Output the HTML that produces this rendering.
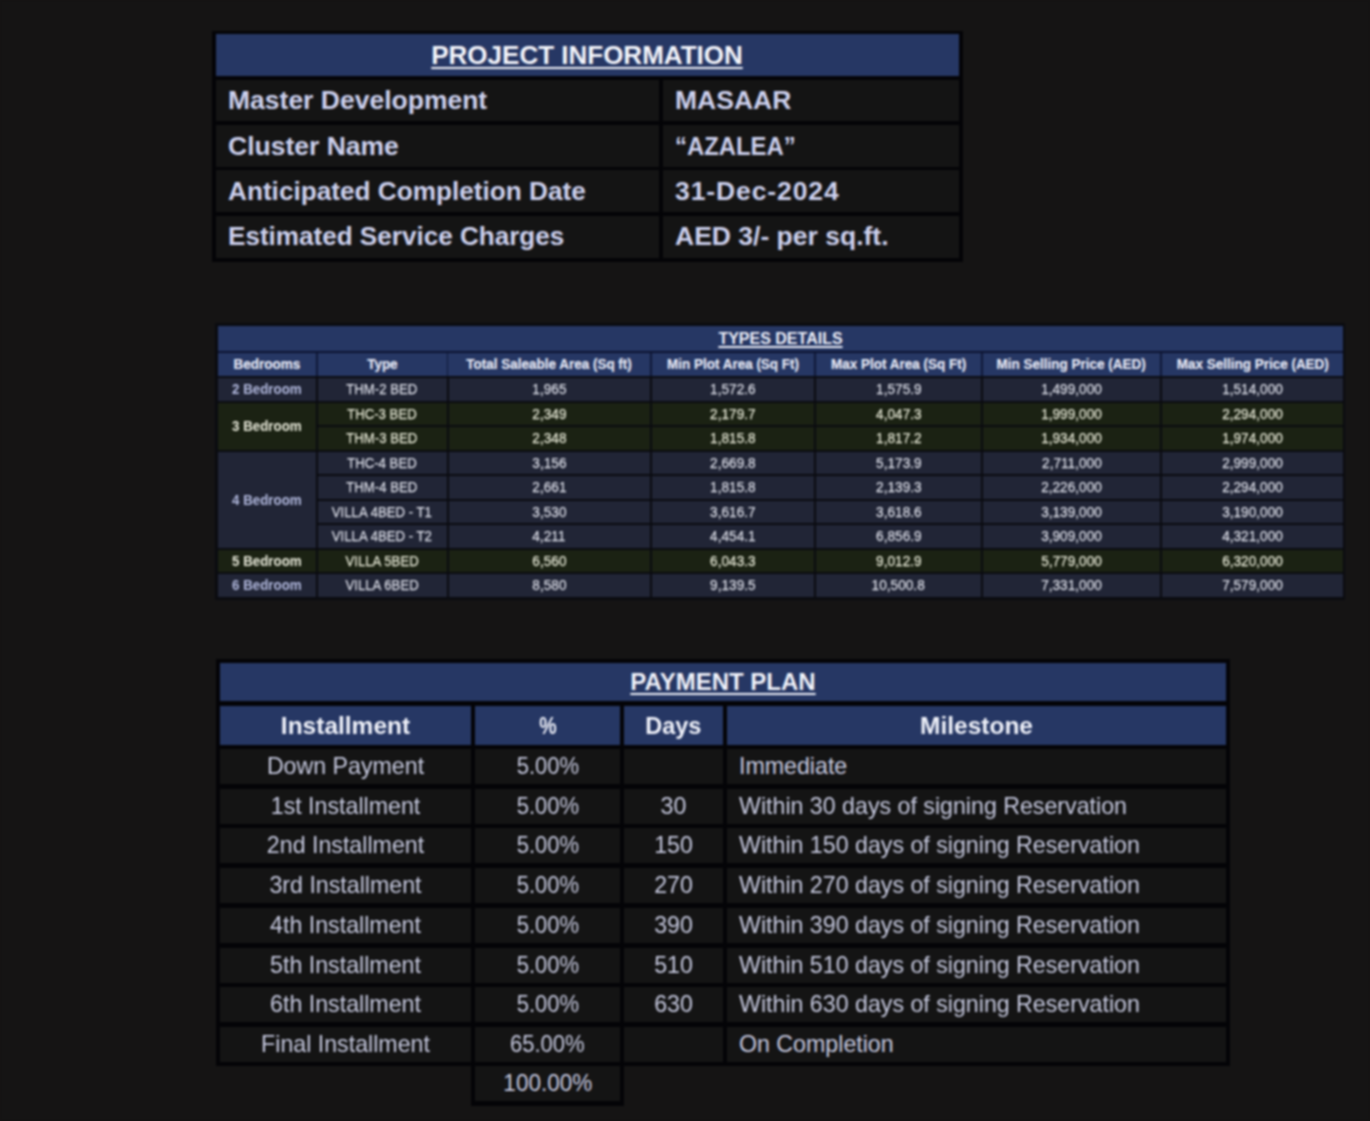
<!DOCTYPE html>
<html><head><meta charset="utf-8"><title>Azalea</title><style>
html,body{margin:0;padding:0;background:#151414;width:1370px;height:1121px;overflow:hidden;}
body{position:relative;font-family:"Liberation Sans",sans-serif;}
#wrap{position:absolute;left:0;top:0;width:1370px;height:1121px;background:#151414;filter:blur(0.8px);}
.b{position:absolute;}
.t{position:absolute;white-space:nowrap;}
.pih{font-size:26px;font-weight:bold;color:#f4f5fb;text-decoration:underline;text-decoration-thickness:2px;text-underline-offset:3px;}
.pit{font-size:26.5px;font-weight:bold;color:#cdd1ee;}
.th{font-size:14.5px;font-weight:bold;color:#e6e9f6;-webkit-text-stroke:0.2px currentColor;}
.tt{font-size:16px;font-weight:bold;color:#eef0fa;text-decoration:underline;text-decoration-thickness:1.5px;text-underline-offset:2px;}
.tb{font-size:14.5px;font-weight:bold;}
.bl{color:#b3badf;}
.bc{color:#e9eadb;}
.td{font-size:15.5px;-webkit-text-stroke:0.25px currentColor;}
.dl{color:#dcdee8;}
.dc{color:#e4e6d4;}
.pph{font-size:24px;font-weight:bold;color:#f0f2fa;text-decoration:underline;text-decoration-thickness:2px;text-underline-offset:3px;}
.ppth{font-size:24.5px;font-weight:bold;color:#f0f2fa;}
.ppd{font-size:23.2px;color:#c8cbe1;}
</style></head><body><div id="wrap">
<div class="b" style="left:212px;top:31px;width:751px;height:230.5px;background:#040407;"></div>
<div class="b" style="left:216px;top:34px;width:743px;height:42px;background:#263764;"></div>
<div class="b" style="left:216px;top:80px;width:443px;height:41px;background:#141414;"></div>
<div class="b" style="left:663px;top:80px;width:296px;height:41px;background:#141414;"></div>
<div class="b" style="left:216px;top:125px;width:443px;height:42px;background:#141414;"></div>
<div class="b" style="left:663px;top:125px;width:296px;height:42px;background:#141414;"></div>
<div class="b" style="left:216px;top:170px;width:443px;height:42px;background:#141414;"></div>
<div class="b" style="left:663px;top:170px;width:296px;height:42px;background:#141414;"></div>
<div class="b" style="left:216px;top:216px;width:443px;height:41.5px;background:#141414;"></div>
<div class="b" style="left:663px;top:216px;width:296px;height:41.5px;background:#141414;"></div>
<div class="t pih" style="left:187.00px;top:34.00px;width:800px;text-align:center;height:42.00px;line-height:42.00px;">PROJECT INFORMATION</div>
<div class="t pit" style="left:228.00px;top:80.00px;height:41.00px;line-height:41.00px;">Master Development</div>
<div class="t pit" style="left:675.00px;top:80.00px;height:41.00px;line-height:41.00px;">MASAAR</div>
<div class="t pit" style="left:228.00px;top:125.00px;height:42.00px;line-height:42.00px;">Cluster Name</div>
<div class="t pit" style="left:675.00px;top:125.00px;height:42.00px;line-height:42.00px;"><span style="display:inline-block;transform:scaleX(0.9);transform-origin:left center;">&ldquo;AZALEA&rdquo;</span></div>
<div class="t pit" style="left:228.00px;top:170.00px;height:42.00px;line-height:42.00px;"><span style="display:inline-block;transform:scaleX(0.988);transform-origin:left center;">Anticipated Completion Date</span></div>
<div class="t pit" style="left:675.00px;top:170.00px;height:42.00px;line-height:42.00px;"><span style="display:inline-block;letter-spacing:0.9px;">31-Dec-2024</span></div>
<div class="t pit" style="left:228.00px;top:216.00px;height:41.50px;line-height:41.50px;"><span style="display:inline-block;transform:scaleX(0.984);transform-origin:left center;">Estimated Service Charges</span></div>
<div class="t pit" style="left:675.00px;top:216.00px;height:41.50px;line-height:41.50px;">AED 3/- per sq.ft.</div>
<div class="b" style="left:215px;top:323px;width:1130px;height:277px;background:#0a0b10;"></div>
<div class="b" style="left:218px;top:326px;width:1125px;height:25px;background:#263764;"></div>
<div class="b" style="left:218px;top:351px;width:1125px;height:2px;background:#0c1330;"></div>
<div class="b" style="left:218px;top:353px;width:1125px;height:23px;background:#263764;"></div>
<div class="t th" style="left:-133.00px;top:353.00px;width:800px;text-align:center;height:23.00px;line-height:23.00px;"><span style="display:inline-block;transform:scaleX(0.93);transform-origin:center center;">Bedrooms</span></div>
<div class="b" style="left:316.25px;top:353px;width:1.5px;height:23px;background:#0f1838;"></div>
<div class="t th" style="left:-17.75px;top:353.00px;width:800px;text-align:center;height:23.00px;line-height:23.00px;"><span style="display:inline-block;transform:scaleX(0.93);transform-origin:center center;">Type</span></div>
<div class="b" style="left:446.75px;top:353px;width:1.5px;height:23px;background:#0f1838;"></div>
<div class="t th" style="left:149.25px;top:353.00px;width:800px;text-align:center;height:23.00px;line-height:23.00px;"><span style="display:inline-block;transform:scaleX(0.93);transform-origin:center center;">Total Saleable Area (Sq ft)</span></div>
<div class="b" style="left:650.25px;top:353px;width:1.5px;height:23px;background:#0f1838;"></div>
<div class="t th" style="left:333.00px;top:353.00px;width:800px;text-align:center;height:23.00px;line-height:23.00px;"><span style="display:inline-block;transform:scaleX(0.93);transform-origin:center center;">Min Plot Area (Sq Ft)</span></div>
<div class="b" style="left:814.25px;top:353px;width:1.5px;height:23px;background:#0f1838;"></div>
<div class="t th" style="left:498.50px;top:353.00px;width:800px;text-align:center;height:23.00px;line-height:23.00px;"><span style="display:inline-block;transform:scaleX(0.93);transform-origin:center center;">Max Plot Area (Sq Ft)</span></div>
<div class="b" style="left:981.25px;top:353px;width:1.5px;height:23px;background:#0f1838;"></div>
<div class="t th" style="left:671.50px;top:353.00px;width:800px;text-align:center;height:23.00px;line-height:23.00px;"><span style="display:inline-block;transform:scaleX(0.93);transform-origin:center center;">Min Selling Price (AED)</span></div>
<div class="b" style="left:1160.25px;top:353px;width:1.5px;height:23px;background:#0f1838;"></div>
<div class="t th" style="left:852.50px;top:353.00px;width:800px;text-align:center;height:23.00px;line-height:23.00px;"><span style="display:inline-block;transform:scaleX(0.93);transform-origin:center center;">Max Selling Price (AED)</span></div>
<div class="t tt" style="left:380.50px;top:326.00px;width:800px;text-align:center;height:25.00px;line-height:25.00px;">TYPES DETAILS</div>
<div class="b" style="left:218px;top:378.0px;width:98px;height:22.55000000000001px;background:#212536;"></div>
<div class="t tb bl" style="left:-133.00px;top:378.00px;width:800px;text-align:center;height:22.55px;line-height:22.55px;"><span style="display:inline-block;transform:scaleX(0.92);transform-origin:center center;">2 Bedroom</span></div>
<div class="b" style="left:218px;top:402.55px;width:98px;height:47.099999999999966px;background:#1b2213;"></div>
<div class="t tb bc" style="left:-133.00px;top:402.55px;width:800px;text-align:center;height:47.10px;line-height:47.10px;"><span style="display:inline-block;transform:scaleX(0.92);transform-origin:center center;">3 Bedroom</span></div>
<div class="b" style="left:218px;top:451.65px;width:98px;height:96.20000000000005px;background:#212536;"></div>
<div class="t tb bl" style="left:-133.00px;top:451.65px;width:800px;text-align:center;height:96.20px;line-height:96.20px;"><span style="display:inline-block;transform:scaleX(0.92);transform-origin:center center;">4 Bedroom</span></div>
<div class="b" style="left:218px;top:549.85px;width:98px;height:22.549999999999955px;background:#1b2213;"></div>
<div class="t tb bc" style="left:-133.00px;top:549.85px;width:800px;text-align:center;height:22.55px;line-height:22.55px;"><span style="display:inline-block;transform:scaleX(0.92);transform-origin:center center;">5 Bedroom</span></div>
<div class="b" style="left:218px;top:574.4px;width:98px;height:22.550000000000068px;background:#212536;"></div>
<div class="t tb bl" style="left:-133.00px;top:574.40px;width:800px;text-align:center;height:22.55px;line-height:22.55px;"><span style="display:inline-block;transform:scaleX(0.92);transform-origin:center center;">6 Bedroom</span></div>
<div class="b" style="left:318px;top:378.0px;width:128.5px;height:22.55000000000001px;background:#212536;"></div>
<div class="t td dl" style="left:-17.75px;top:378.00px;width:800px;text-align:center;height:22.55px;line-height:22.55px;"><span style="display:inline-block;transform:scaleX(0.85);transform-origin:center center;">THM-2 BED</span></div>
<div class="b" style="left:448.5px;top:378.0px;width:201.5px;height:22.55000000000001px;background:#212536;"></div>
<div class="t td dl" style="left:149.25px;top:378.00px;width:800px;text-align:center;height:22.55px;line-height:22.55px;"><span style="display:inline-block;transform:scaleX(0.88);transform-origin:center center;">1,965</span></div>
<div class="b" style="left:652px;top:378.0px;width:162px;height:22.55000000000001px;background:#212536;"></div>
<div class="t td dl" style="left:333.00px;top:378.00px;width:800px;text-align:center;height:22.55px;line-height:22.55px;"><span style="display:inline-block;transform:scaleX(0.88);transform-origin:center center;">1,572.6</span></div>
<div class="b" style="left:816px;top:378.0px;width:165px;height:22.55000000000001px;background:#212536;"></div>
<div class="t td dl" style="left:498.50px;top:378.00px;width:800px;text-align:center;height:22.55px;line-height:22.55px;"><span style="display:inline-block;transform:scaleX(0.88);transform-origin:center center;">1,575.9</span></div>
<div class="b" style="left:983px;top:378.0px;width:177px;height:22.55000000000001px;background:#212536;"></div>
<div class="t td dl" style="left:671.50px;top:378.00px;width:800px;text-align:center;height:22.55px;line-height:22.55px;"><span style="display:inline-block;transform:scaleX(0.88);transform-origin:center center;">1,499,000</span></div>
<div class="b" style="left:1162px;top:378.0px;width:181px;height:22.55000000000001px;background:#212536;"></div>
<div class="t td dl" style="left:852.50px;top:378.00px;width:800px;text-align:center;height:22.55px;line-height:22.55px;"><span style="display:inline-block;transform:scaleX(0.88);transform-origin:center center;">1,514,000</span></div>
<div class="b" style="left:318px;top:402.55px;width:128.5px;height:22.55000000000001px;background:#1b2213;"></div>
<div class="t td dc" style="left:-17.75px;top:402.55px;width:800px;text-align:center;height:22.55px;line-height:22.55px;"><span style="display:inline-block;transform:scaleX(0.85);transform-origin:center center;">THC-3 BED</span></div>
<div class="b" style="left:448.5px;top:402.55px;width:201.5px;height:22.55000000000001px;background:#1b2213;"></div>
<div class="t td dc" style="left:149.25px;top:402.55px;width:800px;text-align:center;height:22.55px;line-height:22.55px;"><span style="display:inline-block;transform:scaleX(0.88);transform-origin:center center;">2,349</span></div>
<div class="b" style="left:652px;top:402.55px;width:162px;height:22.55000000000001px;background:#1b2213;"></div>
<div class="t td dc" style="left:333.00px;top:402.55px;width:800px;text-align:center;height:22.55px;line-height:22.55px;"><span style="display:inline-block;transform:scaleX(0.88);transform-origin:center center;">2,179.7</span></div>
<div class="b" style="left:816px;top:402.55px;width:165px;height:22.55000000000001px;background:#1b2213;"></div>
<div class="t td dc" style="left:498.50px;top:402.55px;width:800px;text-align:center;height:22.55px;line-height:22.55px;"><span style="display:inline-block;transform:scaleX(0.88);transform-origin:center center;">4,047.3</span></div>
<div class="b" style="left:983px;top:402.55px;width:177px;height:22.55000000000001px;background:#1b2213;"></div>
<div class="t td dc" style="left:671.50px;top:402.55px;width:800px;text-align:center;height:22.55px;line-height:22.55px;"><span style="display:inline-block;transform:scaleX(0.88);transform-origin:center center;">1,999,000</span></div>
<div class="b" style="left:1162px;top:402.55px;width:181px;height:22.55000000000001px;background:#1b2213;"></div>
<div class="t td dc" style="left:852.50px;top:402.55px;width:800px;text-align:center;height:22.55px;line-height:22.55px;"><span style="display:inline-block;transform:scaleX(0.88);transform-origin:center center;">2,294,000</span></div>
<div class="b" style="left:318px;top:427.1px;width:128.5px;height:22.549999999999955px;background:#1b2213;"></div>
<div class="t td dc" style="left:-17.75px;top:427.10px;width:800px;text-align:center;height:22.55px;line-height:22.55px;"><span style="display:inline-block;transform:scaleX(0.85);transform-origin:center center;">THM-3 BED</span></div>
<div class="b" style="left:448.5px;top:427.1px;width:201.5px;height:22.549999999999955px;background:#1b2213;"></div>
<div class="t td dc" style="left:149.25px;top:427.10px;width:800px;text-align:center;height:22.55px;line-height:22.55px;"><span style="display:inline-block;transform:scaleX(0.88);transform-origin:center center;">2,348</span></div>
<div class="b" style="left:652px;top:427.1px;width:162px;height:22.549999999999955px;background:#1b2213;"></div>
<div class="t td dc" style="left:333.00px;top:427.10px;width:800px;text-align:center;height:22.55px;line-height:22.55px;"><span style="display:inline-block;transform:scaleX(0.88);transform-origin:center center;">1,815.8</span></div>
<div class="b" style="left:816px;top:427.1px;width:165px;height:22.549999999999955px;background:#1b2213;"></div>
<div class="t td dc" style="left:498.50px;top:427.10px;width:800px;text-align:center;height:22.55px;line-height:22.55px;"><span style="display:inline-block;transform:scaleX(0.88);transform-origin:center center;">1,817.2</span></div>
<div class="b" style="left:983px;top:427.1px;width:177px;height:22.549999999999955px;background:#1b2213;"></div>
<div class="t td dc" style="left:671.50px;top:427.10px;width:800px;text-align:center;height:22.55px;line-height:22.55px;"><span style="display:inline-block;transform:scaleX(0.88);transform-origin:center center;">1,934,000</span></div>
<div class="b" style="left:1162px;top:427.1px;width:181px;height:22.549999999999955px;background:#1b2213;"></div>
<div class="t td dc" style="left:852.50px;top:427.10px;width:800px;text-align:center;height:22.55px;line-height:22.55px;"><span style="display:inline-block;transform:scaleX(0.88);transform-origin:center center;">1,974,000</span></div>
<div class="b" style="left:318px;top:451.65px;width:128.5px;height:22.55000000000001px;background:#212536;"></div>
<div class="t td dl" style="left:-17.75px;top:451.65px;width:800px;text-align:center;height:22.55px;line-height:22.55px;"><span style="display:inline-block;transform:scaleX(0.85);transform-origin:center center;">THC-4 BED</span></div>
<div class="b" style="left:448.5px;top:451.65px;width:201.5px;height:22.55000000000001px;background:#212536;"></div>
<div class="t td dl" style="left:149.25px;top:451.65px;width:800px;text-align:center;height:22.55px;line-height:22.55px;"><span style="display:inline-block;transform:scaleX(0.88);transform-origin:center center;">3,156</span></div>
<div class="b" style="left:652px;top:451.65px;width:162px;height:22.55000000000001px;background:#212536;"></div>
<div class="t td dl" style="left:333.00px;top:451.65px;width:800px;text-align:center;height:22.55px;line-height:22.55px;"><span style="display:inline-block;transform:scaleX(0.88);transform-origin:center center;">2,669.8</span></div>
<div class="b" style="left:816px;top:451.65px;width:165px;height:22.55000000000001px;background:#212536;"></div>
<div class="t td dl" style="left:498.50px;top:451.65px;width:800px;text-align:center;height:22.55px;line-height:22.55px;"><span style="display:inline-block;transform:scaleX(0.88);transform-origin:center center;">5,173.9</span></div>
<div class="b" style="left:983px;top:451.65px;width:177px;height:22.55000000000001px;background:#212536;"></div>
<div class="t td dl" style="left:671.50px;top:451.65px;width:800px;text-align:center;height:22.55px;line-height:22.55px;"><span style="display:inline-block;transform:scaleX(0.88);transform-origin:center center;">2,711,000</span></div>
<div class="b" style="left:1162px;top:451.65px;width:181px;height:22.55000000000001px;background:#212536;"></div>
<div class="t td dl" style="left:852.50px;top:451.65px;width:800px;text-align:center;height:22.55px;line-height:22.55px;"><span style="display:inline-block;transform:scaleX(0.88);transform-origin:center center;">2,999,000</span></div>
<div class="b" style="left:318px;top:476.2px;width:128.5px;height:22.55000000000001px;background:#212536;"></div>
<div class="t td dl" style="left:-17.75px;top:476.20px;width:800px;text-align:center;height:22.55px;line-height:22.55px;"><span style="display:inline-block;transform:scaleX(0.85);transform-origin:center center;">THM-4 BED</span></div>
<div class="b" style="left:448.5px;top:476.2px;width:201.5px;height:22.55000000000001px;background:#212536;"></div>
<div class="t td dl" style="left:149.25px;top:476.20px;width:800px;text-align:center;height:22.55px;line-height:22.55px;"><span style="display:inline-block;transform:scaleX(0.88);transform-origin:center center;">2,661</span></div>
<div class="b" style="left:652px;top:476.2px;width:162px;height:22.55000000000001px;background:#212536;"></div>
<div class="t td dl" style="left:333.00px;top:476.20px;width:800px;text-align:center;height:22.55px;line-height:22.55px;"><span style="display:inline-block;transform:scaleX(0.88);transform-origin:center center;">1,815.8</span></div>
<div class="b" style="left:816px;top:476.2px;width:165px;height:22.55000000000001px;background:#212536;"></div>
<div class="t td dl" style="left:498.50px;top:476.20px;width:800px;text-align:center;height:22.55px;line-height:22.55px;"><span style="display:inline-block;transform:scaleX(0.88);transform-origin:center center;">2,139.3</span></div>
<div class="b" style="left:983px;top:476.2px;width:177px;height:22.55000000000001px;background:#212536;"></div>
<div class="t td dl" style="left:671.50px;top:476.20px;width:800px;text-align:center;height:22.55px;line-height:22.55px;"><span style="display:inline-block;transform:scaleX(0.88);transform-origin:center center;">2,226,000</span></div>
<div class="b" style="left:1162px;top:476.2px;width:181px;height:22.55000000000001px;background:#212536;"></div>
<div class="t td dl" style="left:852.50px;top:476.20px;width:800px;text-align:center;height:22.55px;line-height:22.55px;"><span style="display:inline-block;transform:scaleX(0.88);transform-origin:center center;">2,294,000</span></div>
<div class="b" style="left:318px;top:500.75px;width:128.5px;height:22.549999999999955px;background:#212536;"></div>
<div class="t td dl" style="left:-17.75px;top:500.75px;width:800px;text-align:center;height:22.55px;line-height:22.55px;"><span style="display:inline-block;transform:scaleX(0.85);transform-origin:center center;">VILLA 4BED - T1</span></div>
<div class="b" style="left:448.5px;top:500.75px;width:201.5px;height:22.549999999999955px;background:#212536;"></div>
<div class="t td dl" style="left:149.25px;top:500.75px;width:800px;text-align:center;height:22.55px;line-height:22.55px;"><span style="display:inline-block;transform:scaleX(0.88);transform-origin:center center;">3,530</span></div>
<div class="b" style="left:652px;top:500.75px;width:162px;height:22.549999999999955px;background:#212536;"></div>
<div class="t td dl" style="left:333.00px;top:500.75px;width:800px;text-align:center;height:22.55px;line-height:22.55px;"><span style="display:inline-block;transform:scaleX(0.88);transform-origin:center center;">3,616.7</span></div>
<div class="b" style="left:816px;top:500.75px;width:165px;height:22.549999999999955px;background:#212536;"></div>
<div class="t td dl" style="left:498.50px;top:500.75px;width:800px;text-align:center;height:22.55px;line-height:22.55px;"><span style="display:inline-block;transform:scaleX(0.88);transform-origin:center center;">3,618.6</span></div>
<div class="b" style="left:983px;top:500.75px;width:177px;height:22.549999999999955px;background:#212536;"></div>
<div class="t td dl" style="left:671.50px;top:500.75px;width:800px;text-align:center;height:22.55px;line-height:22.55px;"><span style="display:inline-block;transform:scaleX(0.88);transform-origin:center center;">3,139,000</span></div>
<div class="b" style="left:1162px;top:500.75px;width:181px;height:22.549999999999955px;background:#212536;"></div>
<div class="t td dl" style="left:852.50px;top:500.75px;width:800px;text-align:center;height:22.55px;line-height:22.55px;"><span style="display:inline-block;transform:scaleX(0.88);transform-origin:center center;">3,190,000</span></div>
<div class="b" style="left:318px;top:525.3px;width:128.5px;height:22.550000000000068px;background:#212536;"></div>
<div class="t td dl" style="left:-17.75px;top:525.30px;width:800px;text-align:center;height:22.55px;line-height:22.55px;"><span style="display:inline-block;transform:scaleX(0.85);transform-origin:center center;">VILLA 4BED - T2</span></div>
<div class="b" style="left:448.5px;top:525.3px;width:201.5px;height:22.550000000000068px;background:#212536;"></div>
<div class="t td dl" style="left:149.25px;top:525.30px;width:800px;text-align:center;height:22.55px;line-height:22.55px;"><span style="display:inline-block;transform:scaleX(0.88);transform-origin:center center;">4,211</span></div>
<div class="b" style="left:652px;top:525.3px;width:162px;height:22.550000000000068px;background:#212536;"></div>
<div class="t td dl" style="left:333.00px;top:525.30px;width:800px;text-align:center;height:22.55px;line-height:22.55px;"><span style="display:inline-block;transform:scaleX(0.88);transform-origin:center center;">4,454.1</span></div>
<div class="b" style="left:816px;top:525.3px;width:165px;height:22.550000000000068px;background:#212536;"></div>
<div class="t td dl" style="left:498.50px;top:525.30px;width:800px;text-align:center;height:22.55px;line-height:22.55px;"><span style="display:inline-block;transform:scaleX(0.88);transform-origin:center center;">6,856.9</span></div>
<div class="b" style="left:983px;top:525.3px;width:177px;height:22.550000000000068px;background:#212536;"></div>
<div class="t td dl" style="left:671.50px;top:525.30px;width:800px;text-align:center;height:22.55px;line-height:22.55px;"><span style="display:inline-block;transform:scaleX(0.88);transform-origin:center center;">3,909,000</span></div>
<div class="b" style="left:1162px;top:525.3px;width:181px;height:22.550000000000068px;background:#212536;"></div>
<div class="t td dl" style="left:852.50px;top:525.30px;width:800px;text-align:center;height:22.55px;line-height:22.55px;"><span style="display:inline-block;transform:scaleX(0.88);transform-origin:center center;">4,321,000</span></div>
<div class="b" style="left:318px;top:549.85px;width:128.5px;height:22.549999999999955px;background:#1b2213;"></div>
<div class="t td dc" style="left:-17.75px;top:549.85px;width:800px;text-align:center;height:22.55px;line-height:22.55px;"><span style="display:inline-block;transform:scaleX(0.85);transform-origin:center center;">VILLA 5BED</span></div>
<div class="b" style="left:448.5px;top:549.85px;width:201.5px;height:22.549999999999955px;background:#1b2213;"></div>
<div class="t td dc" style="left:149.25px;top:549.85px;width:800px;text-align:center;height:22.55px;line-height:22.55px;"><span style="display:inline-block;transform:scaleX(0.88);transform-origin:center center;">6,560</span></div>
<div class="b" style="left:652px;top:549.85px;width:162px;height:22.549999999999955px;background:#1b2213;"></div>
<div class="t td dc" style="left:333.00px;top:549.85px;width:800px;text-align:center;height:22.55px;line-height:22.55px;"><span style="display:inline-block;transform:scaleX(0.88);transform-origin:center center;">6,043.3</span></div>
<div class="b" style="left:816px;top:549.85px;width:165px;height:22.549999999999955px;background:#1b2213;"></div>
<div class="t td dc" style="left:498.50px;top:549.85px;width:800px;text-align:center;height:22.55px;line-height:22.55px;"><span style="display:inline-block;transform:scaleX(0.88);transform-origin:center center;">9,012.9</span></div>
<div class="b" style="left:983px;top:549.85px;width:177px;height:22.549999999999955px;background:#1b2213;"></div>
<div class="t td dc" style="left:671.50px;top:549.85px;width:800px;text-align:center;height:22.55px;line-height:22.55px;"><span style="display:inline-block;transform:scaleX(0.88);transform-origin:center center;">5,779,000</span></div>
<div class="b" style="left:1162px;top:549.85px;width:181px;height:22.549999999999955px;background:#1b2213;"></div>
<div class="t td dc" style="left:852.50px;top:549.85px;width:800px;text-align:center;height:22.55px;line-height:22.55px;"><span style="display:inline-block;transform:scaleX(0.88);transform-origin:center center;">6,320,000</span></div>
<div class="b" style="left:318px;top:574.4px;width:128.5px;height:22.550000000000068px;background:#212536;"></div>
<div class="t td dl" style="left:-17.75px;top:574.40px;width:800px;text-align:center;height:22.55px;line-height:22.55px;"><span style="display:inline-block;transform:scaleX(0.85);transform-origin:center center;">VILLA 6BED</span></div>
<div class="b" style="left:448.5px;top:574.4px;width:201.5px;height:22.550000000000068px;background:#212536;"></div>
<div class="t td dl" style="left:149.25px;top:574.40px;width:800px;text-align:center;height:22.55px;line-height:22.55px;"><span style="display:inline-block;transform:scaleX(0.88);transform-origin:center center;">8,580</span></div>
<div class="b" style="left:652px;top:574.4px;width:162px;height:22.550000000000068px;background:#212536;"></div>
<div class="t td dl" style="left:333.00px;top:574.40px;width:800px;text-align:center;height:22.55px;line-height:22.55px;"><span style="display:inline-block;transform:scaleX(0.88);transform-origin:center center;">9,139.5</span></div>
<div class="b" style="left:816px;top:574.4px;width:165px;height:22.550000000000068px;background:#212536;"></div>
<div class="t td dl" style="left:498.50px;top:574.40px;width:800px;text-align:center;height:22.55px;line-height:22.55px;"><span style="display:inline-block;transform:scaleX(0.88);transform-origin:center center;">10,500.8</span></div>
<div class="b" style="left:983px;top:574.4px;width:177px;height:22.550000000000068px;background:#212536;"></div>
<div class="t td dl" style="left:671.50px;top:574.40px;width:800px;text-align:center;height:22.55px;line-height:22.55px;"><span style="display:inline-block;transform:scaleX(0.88);transform-origin:center center;">7,331,000</span></div>
<div class="b" style="left:1162px;top:574.4px;width:181px;height:22.550000000000068px;background:#212536;"></div>
<div class="t td dl" style="left:852.50px;top:574.40px;width:800px;text-align:center;height:22.55px;line-height:22.55px;"><span style="display:inline-block;transform:scaleX(0.88);transform-origin:center center;">7,579,000</span></div>
<div class="b" style="left:216px;top:659px;width:1014px;height:407px;background:#040407;"></div>
<div class="b" style="left:220px;top:663px;width:1006px;height:38px;background:#263764;"></div>
<div class="t pph" style="left:323.00px;top:663.00px;width:800px;text-align:center;height:38.00px;line-height:38.00px;">PAYMENT PLAN</div>
<div class="b" style="left:220px;top:706px;width:251px;height:39px;background:#263764;"></div>
<div class="t ppth" style="left:-54.50px;top:706.00px;width:800px;text-align:center;height:39.00px;line-height:39.00px;">Installment</div>
<div class="b" style="left:475px;top:706px;width:145px;height:39px;background:#263764;"></div>
<div class="t ppth" style="left:147.50px;top:706.00px;width:800px;text-align:center;height:39.00px;line-height:39.00px;"><span style="display:inline-block;transform:scaleX(0.8);transform-origin:center center;">%</span></div>
<div class="b" style="left:624px;top:706px;width:99px;height:39px;background:#263764;"></div>
<div class="t ppth" style="left:273.50px;top:706.00px;width:800px;text-align:center;height:39.00px;line-height:39.00px;"><span style="display:inline-block;transform:scaleX(0.96);transform-origin:center center;">Days</span></div>
<div class="b" style="left:727px;top:706px;width:499px;height:39px;background:#263764;"></div>
<div class="t ppth" style="left:576.50px;top:706.00px;width:800px;text-align:center;height:39.00px;line-height:39.00px;">Milestone</div>
<div class="b" style="left:220px;top:749px;width:251px;height:35px;background:#141414;"></div>
<div class="t ppd" style="left:-54.50px;top:749.00px;width:800px;text-align:center;height:35.00px;line-height:35.00px;">Down Payment</div>
<div class="b" style="left:475px;top:749px;width:145px;height:35px;background:#141414;"></div>
<div class="t ppd" style="left:147.50px;top:749.00px;width:800px;text-align:center;height:35.00px;line-height:35.00px;"><span style="display:inline-block;transform:scaleX(0.95);transform-origin:center center;">5.00%</span></div>
<div class="b" style="left:624px;top:749px;width:99px;height:35px;background:#141414;"></div>
<div class="t ppd" style="left:273.50px;top:749.00px;width:800px;text-align:center;height:35.00px;line-height:35.00px;"></div>
<div class="b" style="left:727px;top:749px;width:499px;height:35px;background:#141414;"></div>
<div class="t ppd" style="left:739.00px;top:749.00px;height:35.00px;line-height:35.00px;">Immediate</div>
<div class="b" style="left:220px;top:789px;width:251px;height:35px;background:#141414;"></div>
<div class="t ppd" style="left:-54.50px;top:789.00px;width:800px;text-align:center;height:35.00px;line-height:35.00px;">1st Installment</div>
<div class="b" style="left:475px;top:789px;width:145px;height:35px;background:#141414;"></div>
<div class="t ppd" style="left:147.50px;top:789.00px;width:800px;text-align:center;height:35.00px;line-height:35.00px;"><span style="display:inline-block;transform:scaleX(0.95);transform-origin:center center;">5.00%</span></div>
<div class="b" style="left:624px;top:789px;width:99px;height:35px;background:#141414;"></div>
<div class="t ppd" style="left:273.50px;top:789.00px;width:800px;text-align:center;height:35.00px;line-height:35.00px;">30</div>
<div class="b" style="left:727px;top:789px;width:499px;height:35px;background:#141414;"></div>
<div class="t ppd" style="left:739.00px;top:789.00px;height:35.00px;line-height:35.00px;">Within 30 days of signing Reservation</div>
<div class="b" style="left:220px;top:828px;width:251px;height:35px;background:#141414;"></div>
<div class="t ppd" style="left:-54.50px;top:828.00px;width:800px;text-align:center;height:35.00px;line-height:35.00px;">2nd Installment</div>
<div class="b" style="left:475px;top:828px;width:145px;height:35px;background:#141414;"></div>
<div class="t ppd" style="left:147.50px;top:828.00px;width:800px;text-align:center;height:35.00px;line-height:35.00px;"><span style="display:inline-block;transform:scaleX(0.95);transform-origin:center center;">5.00%</span></div>
<div class="b" style="left:624px;top:828px;width:99px;height:35px;background:#141414;"></div>
<div class="t ppd" style="left:273.50px;top:828.00px;width:800px;text-align:center;height:35.00px;line-height:35.00px;">150</div>
<div class="b" style="left:727px;top:828px;width:499px;height:35px;background:#141414;"></div>
<div class="t ppd" style="left:739.00px;top:828.00px;height:35.00px;line-height:35.00px;">Within 150 days of signing Reservation</div>
<div class="b" style="left:220px;top:868px;width:251px;height:35px;background:#141414;"></div>
<div class="t ppd" style="left:-54.50px;top:868.00px;width:800px;text-align:center;height:35.00px;line-height:35.00px;">3rd Installment</div>
<div class="b" style="left:475px;top:868px;width:145px;height:35px;background:#141414;"></div>
<div class="t ppd" style="left:147.50px;top:868.00px;width:800px;text-align:center;height:35.00px;line-height:35.00px;"><span style="display:inline-block;transform:scaleX(0.95);transform-origin:center center;">5.00%</span></div>
<div class="b" style="left:624px;top:868px;width:99px;height:35px;background:#141414;"></div>
<div class="t ppd" style="left:273.50px;top:868.00px;width:800px;text-align:center;height:35.00px;line-height:35.00px;">270</div>
<div class="b" style="left:727px;top:868px;width:499px;height:35px;background:#141414;"></div>
<div class="t ppd" style="left:739.00px;top:868.00px;height:35.00px;line-height:35.00px;">Within 270 days of signing Reservation</div>
<div class="b" style="left:220px;top:908px;width:251px;height:35px;background:#141414;"></div>
<div class="t ppd" style="left:-54.50px;top:908.00px;width:800px;text-align:center;height:35.00px;line-height:35.00px;">4th Installment</div>
<div class="b" style="left:475px;top:908px;width:145px;height:35px;background:#141414;"></div>
<div class="t ppd" style="left:147.50px;top:908.00px;width:800px;text-align:center;height:35.00px;line-height:35.00px;"><span style="display:inline-block;transform:scaleX(0.95);transform-origin:center center;">5.00%</span></div>
<div class="b" style="left:624px;top:908px;width:99px;height:35px;background:#141414;"></div>
<div class="t ppd" style="left:273.50px;top:908.00px;width:800px;text-align:center;height:35.00px;line-height:35.00px;">390</div>
<div class="b" style="left:727px;top:908px;width:499px;height:35px;background:#141414;"></div>
<div class="t ppd" style="left:739.00px;top:908.00px;height:35.00px;line-height:35.00px;">Within 390 days of signing Reservation</div>
<div class="b" style="left:220px;top:948px;width:251px;height:35px;background:#141414;"></div>
<div class="t ppd" style="left:-54.50px;top:948.00px;width:800px;text-align:center;height:35.00px;line-height:35.00px;">5th Installment</div>
<div class="b" style="left:475px;top:948px;width:145px;height:35px;background:#141414;"></div>
<div class="t ppd" style="left:147.50px;top:948.00px;width:800px;text-align:center;height:35.00px;line-height:35.00px;"><span style="display:inline-block;transform:scaleX(0.95);transform-origin:center center;">5.00%</span></div>
<div class="b" style="left:624px;top:948px;width:99px;height:35px;background:#141414;"></div>
<div class="t ppd" style="left:273.50px;top:948.00px;width:800px;text-align:center;height:35.00px;line-height:35.00px;">510</div>
<div class="b" style="left:727px;top:948px;width:499px;height:35px;background:#141414;"></div>
<div class="t ppd" style="left:739.00px;top:948.00px;height:35.00px;line-height:35.00px;">Within 510 days of signing Reservation</div>
<div class="b" style="left:220px;top:987px;width:251px;height:35px;background:#141414;"></div>
<div class="t ppd" style="left:-54.50px;top:987.00px;width:800px;text-align:center;height:35.00px;line-height:35.00px;">6th Installment</div>
<div class="b" style="left:475px;top:987px;width:145px;height:35px;background:#141414;"></div>
<div class="t ppd" style="left:147.50px;top:987.00px;width:800px;text-align:center;height:35.00px;line-height:35.00px;"><span style="display:inline-block;transform:scaleX(0.95);transform-origin:center center;">5.00%</span></div>
<div class="b" style="left:624px;top:987px;width:99px;height:35px;background:#141414;"></div>
<div class="t ppd" style="left:273.50px;top:987.00px;width:800px;text-align:center;height:35.00px;line-height:35.00px;">630</div>
<div class="b" style="left:727px;top:987px;width:499px;height:35px;background:#141414;"></div>
<div class="t ppd" style="left:739.00px;top:987.00px;height:35.00px;line-height:35.00px;">Within 630 days of signing Reservation</div>
<div class="b" style="left:220px;top:1027px;width:251px;height:35px;background:#141414;"></div>
<div class="t ppd" style="left:-54.50px;top:1027.00px;width:800px;text-align:center;height:35.00px;line-height:35.00px;">Final Installment</div>
<div class="b" style="left:475px;top:1027px;width:145px;height:35px;background:#141414;"></div>
<div class="t ppd" style="left:147.50px;top:1027.00px;width:800px;text-align:center;height:35.00px;line-height:35.00px;"><span style="display:inline-block;transform:scaleX(0.95);transform-origin:center center;">65.00%</span></div>
<div class="b" style="left:624px;top:1027px;width:99px;height:35px;background:#141414;"></div>
<div class="t ppd" style="left:273.50px;top:1027.00px;width:800px;text-align:center;height:35.00px;line-height:35.00px;"></div>
<div class="b" style="left:727px;top:1027px;width:499px;height:35px;background:#141414;"></div>
<div class="t ppd" style="left:739.00px;top:1027.00px;height:35.00px;line-height:35.00px;">On Completion</div>
<div class="b" style="left:471px;top:1062px;width:153px;height:44px;background:#040407;"></div>
<div class="b" style="left:475px;top:1066px;width:145px;height:35px;background:#141414;"></div>
<div class="t ppd" style="left:147.50px;top:1066.00px;width:800px;text-align:center;height:35.00px;line-height:35.00px;"><span style="display:inline-block;transform:scaleX(0.97);transform-origin:center center;">100.00%</span></div>
</div></body></html>
